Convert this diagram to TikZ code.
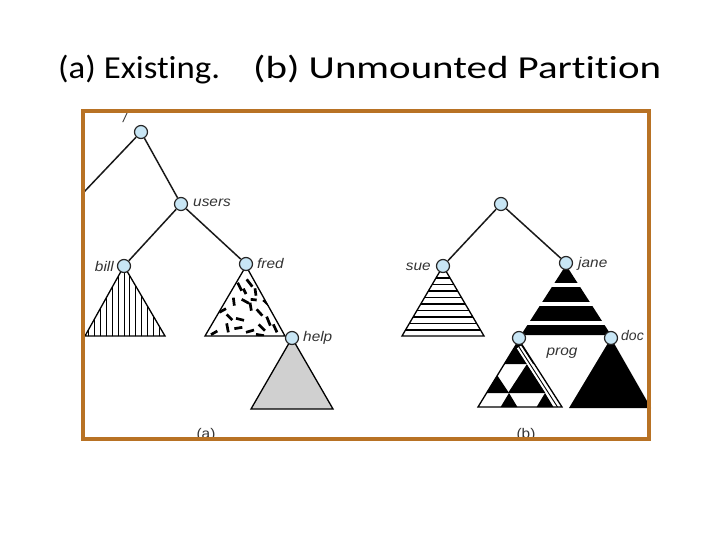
\documentclass[tikz,border=0pt]{standalone}
\usepackage{fontspec}
\usepackage{graphicx}
\setmainfont{Liberation Sans}
\newfontfamily\titlefont[Ligatures=CommonOff]{Carlito}
\usetikzlibrary{backgrounds}
\definecolor{framec}{RGB}{184,114,36}
\definecolor{nodec}{RGB}{200,230,245}
\definecolor{helpg}{RGB}{208,208,208}
\newcommand{\widetext}[1]{\scalebox{1.1}[1]{#1}}
\begin{document}
\begin{tikzpicture}[x=1pt,y=-1pt,
  dot/.style={circle,draw=black!85,fill=nodec,line width=1.2pt,minimum size=13pt,inner sep=0pt},
  edge/.style={line width=1.5pt,black!90},
  lab/.style={font=\fontsize{14}{16}\selectfont\itshape,text=black!80,inner sep=0pt},
  caplab/.style={font=\fontsize{14}{16}\selectfont,text=black!80,inner sep=0pt},
  tri/.style={line width=1.3pt,draw=black},
  speck/.style={line width=2.7pt}]
\useasboundingbox (0,0) rectangle (720,540);
% title
\node[font=\titlefont\fontsize{32}{38}\selectfont,anchor=base west,inner sep=0pt] (title) at (58,79)
  {\resizebox{162pt}{\height}{(a) Existing.}\hspace{33pt}\resizebox{408pt}{\height}{(b) Unmounted Partition}};
% nodes
\node[dot] (ra) at (141,132) {};
\node[dot] (users) at (181,204) {};
\node[dot] (bill) at (124,266) {};
\node[dot] (fred) at (246,264) {};
\node[dot] (help) at (292,338) {};
\node[dot] (rb) at (501,204) {};
\node[dot] (sue) at (443,266) {};
\node[dot] (jane) at (566,263) {};
\node[dot] (prog) at (519,338) {};
\node[dot] (doc) at (611,338) {};
\coordinate (leftend) at (84,192);
% labels
\node[lab,anchor=base] (lslash) at (125,123) {/};
\node[lab,anchor=base west] (lusers) at (193,206.5) {\widetext{users}};
\node[lab,anchor=base east] (lbill) at (114,271.5) {\widetext{bill}};
\node[lab,anchor=base west] (lfred) at (257,268) {\widetext{fred}};
\node[lab,anchor=base west] (lhelp) at (303,341.5) {\widetext{help}};
\node[lab,anchor=base east] (lsue) at (431,270.5) {\widetext{sue}};
\node[lab,anchor=base west] (ljane) at (578,267.5) {\widetext{jane}};
\node[lab,anchor=base] (lprog) at (562,355) {\widetext{prog}};
\node[lab,anchor=base west] (ldoc) at (621,340.5) {doc};
\node[caplab,anchor=base] (la) at (206,438) {\widetext{(a)}};
\node[caplab,anchor=base] (lb) at (526,438) {\widetext{(b)}};
\begin{scope}[on background layer]
  % bill: vertical stripes
  \begin{scope}
    \clip (124,266) -- (85,336) -- (165,336) -- cycle;
    \foreach \k in {-7,...,7} \draw[line width=1pt] (124+\k*5.9,255) -- (124+\k*5.9,340);
  \end{scope}
  \draw[tri] (124,266) -- (85,336) -- (165,336) -- cycle;
  % fred: random dashes
  \begin{scope}
    \clip (246,266) -- (205,336) -- (285,336) -- cycle;
    \begin{scope}[shift={(80,240)},scale=1/3]
      \foreach \a/\b/\c/\d in {473/128/485/152, 500/118/517/140, 525/145/528/167, 460/173/463/197,
        485/178/507/190, 512/178/530/180, 550/180/574/202, 418/217/438/206, 440/223/457/240,
        468/235/492/241, 510/188/514/212, 530/208/547/227, 560/230/571/257, 440/250/445/277,
        393/284/412/273, 463/266/487/262, 498/277/522/270, 536/253/555/272, 580/253/591/277,
        528/283/552/287, 597/238/604/258, 490/146/498/162}
        \draw[speck] (\a,\b) -- (\c,\d);
    \end{scope}
  \end{scope}
  \draw[tri] (246,266) -- (205,336) -- (285,336) -- cycle;
  % help: gray
  \draw[tri,fill=helpg] (292,338) -- (251,409) -- (333,409) -- cycle;
  % sue: horizontal stripes
  \begin{scope}
    \clip (443,266) -- (402,336) -- (484,336) -- cycle;
    \foreach \k in {0,...,8} \draw[line width=1.3pt] (395,278+\k*6.5) -- (490,278+\k*6.5);
  \end{scope}
  \draw[tri] (443,266) -- (402,336) -- (484,336) -- cycle;
  % jane: black with white stripes
  \fill[black] (566,265) -- (521,335) -- (611,335) -- cycle;
  \fill[white] (500,283) rectangle (630,286.5);
  \fill[white] (500,302) rectangle (630,306);
  \fill[white] (500,321) rectangle (630,325);
  % prog: checker pattern
  \begin{scope}
    \clip (519,340) -- (478,407) -- (562,407) -- cycle;
    \fill[black] (519,335) -- (500,364) -- (538,364) -- cycle;
    \fill[black] (527,364) -- (508,393) -- (546,393) -- cycle;
    \fill[black] (497,375) -- (485,393) -- (509,393) -- cycle;
    \fill[black] (509,393) -- (500,408) -- (518,408) -- cycle;
    \fill[black] (545,393) -- (536,408) -- (554,408) -- cycle;
    \draw[white,line width=5pt] (519,347) -- (557.5,407);
    \draw[black,line width=0.9pt] (519,347) -- (557.5,407);
  \end{scope}
  \draw[tri] (519,340) -- (478,407) -- (562,407) -- cycle;
  % doc: solid black
  \fill[black] (611,338) -- (569,408) -- (651,408) -- cycle;
  % edges
  \draw[edge] (ra) -- (leftend);
  \draw[edge] (ra) -- (users);
  \draw[edge] (users) -- (bill);
  \draw[edge] (users) -- (fred);
  \draw[edge] (rb) -- (sue);
  \draw[edge] (rb) -- (jane);
\end{scope}
% frame
\draw[framec,line width=4pt] (83,111) rectangle (649,439);
\end{tikzpicture}
\end{document}
